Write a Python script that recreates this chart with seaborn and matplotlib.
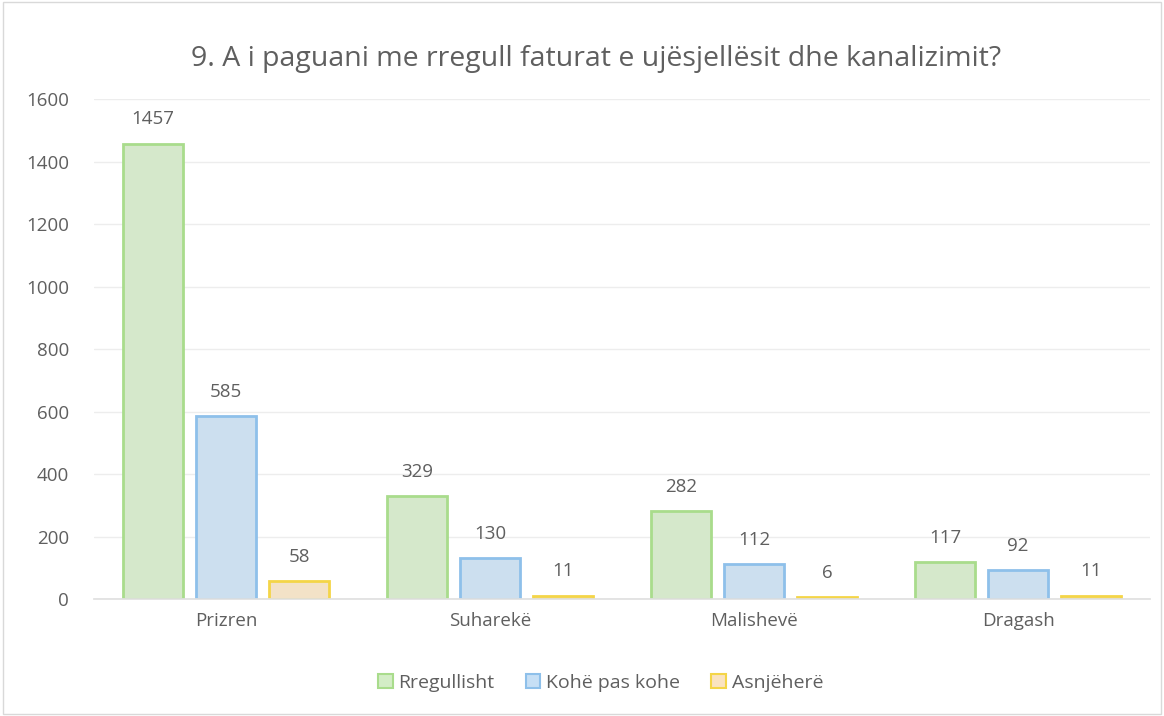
import matplotlib
matplotlib.use("Agg")
import matplotlib.pyplot as plt
import seaborn as sns
import pandas as pd
from matplotlib.patches import Patch

categories = ["Prizren", "Suharekë", "Malishevë", "Dragash"]
series = ["Rregullisht", "Kohë pas kohe", "Asnjëherë"]
rregullisht = [1457, 329, 282, 117]
kohe_pas_kohe = [585, 130, 112, 92]
asnjehere = [58, 11, 6, 11]
yticks = [0, 200, 400, 600, 800, 1000, 1200, 1400, 1600]

rows = []
for s, vals in zip(series, [rregullisht, kohe_pas_kohe, asnjehere]):
    for c, v in zip(categories, vals):
        rows.append({"cat": c, "series": s, "value": v})
df = pd.DataFrame(rows)

sns.set_theme(style="white")
plt.rcParams['font.family'] = ['Open Sans', 'DejaVu Sans']

faces = {"Rregullisht": "#d3edc6", "Kohë pas kohe": "#c6dff5", "Asnjëherë": "#fae3c0"}
edges = {"Rregullisht": "#a9dc8c", "Kohë pas kohe": "#8ec0ea", "Asnjëherë": "#f4d548"}
txt = "#5f5f5f"

fig = plt.figure(figsize=(11.64, 7.16), dpi=100)
ax = fig.add_axes([0.0808, 0.1634, 0.9072, 0.6983])
sns.barplot(data=df, x="cat", y="value", hue="series", order=categories,
            hue_order=series, palette=faces, width=0.83, gap=0.18,
            ax=ax, legend=False, linewidth=2)

for container, s in zip(ax.containers, series):
    for p in container:
        p.set_edgecolor(edges[s])
        p.set_linewidth(2)
    ax.bar_label(container, padding=11, fontsize=13.5, color=txt)

ax.set_ylim(0, 1600)
ax.set_yticks(yticks)
ax.set_xlim(-0.5, 3.5)
ax.yaxis.grid(True, color="#ededed", linewidth=1)
ax.set_axisbelow(True)
for sp in ["top", "right", "left"]:
    ax.spines[sp].set_visible(False)
ax.spines["bottom"].set_color("#e0e0e0")
ax.tick_params(axis="both", length=0, labelsize=13.5, labelcolor=txt)
ax.tick_params(axis="x", pad=9)
ax.tick_params(axis="y", pad=18)
ax.set_xlabel("")
ax.set_ylabel("")

fig.text(0.512, 0.918, "9. A i paguani me rregull faturat e ujësjellësit dhe kanalizimit?",
         ha="center", va="center", fontsize=20.5, color=txt)

handles = [Patch(facecolor=faces[s], edgecolor=edges[s], linewidth=1.5, label=s) for s in series]
fig.legend(handles=handles, loc="center", bbox_to_anchor=(0.516, 0.046), ncol=3,
           frameon=False, fontsize=14, labelcolor=txt, handlelength=0.75,
           handleheight=0.75, handletextpad=0.3, columnspacing=1.6)

border = plt.Rectangle((0.003, 0.003), 0.994, 0.994, transform=fig.transFigure,
                       fill=False, edgecolor="#d9d9d9", linewidth=1)
fig.patches.append(border)

fig.savefig("out.png", dpi=100)
